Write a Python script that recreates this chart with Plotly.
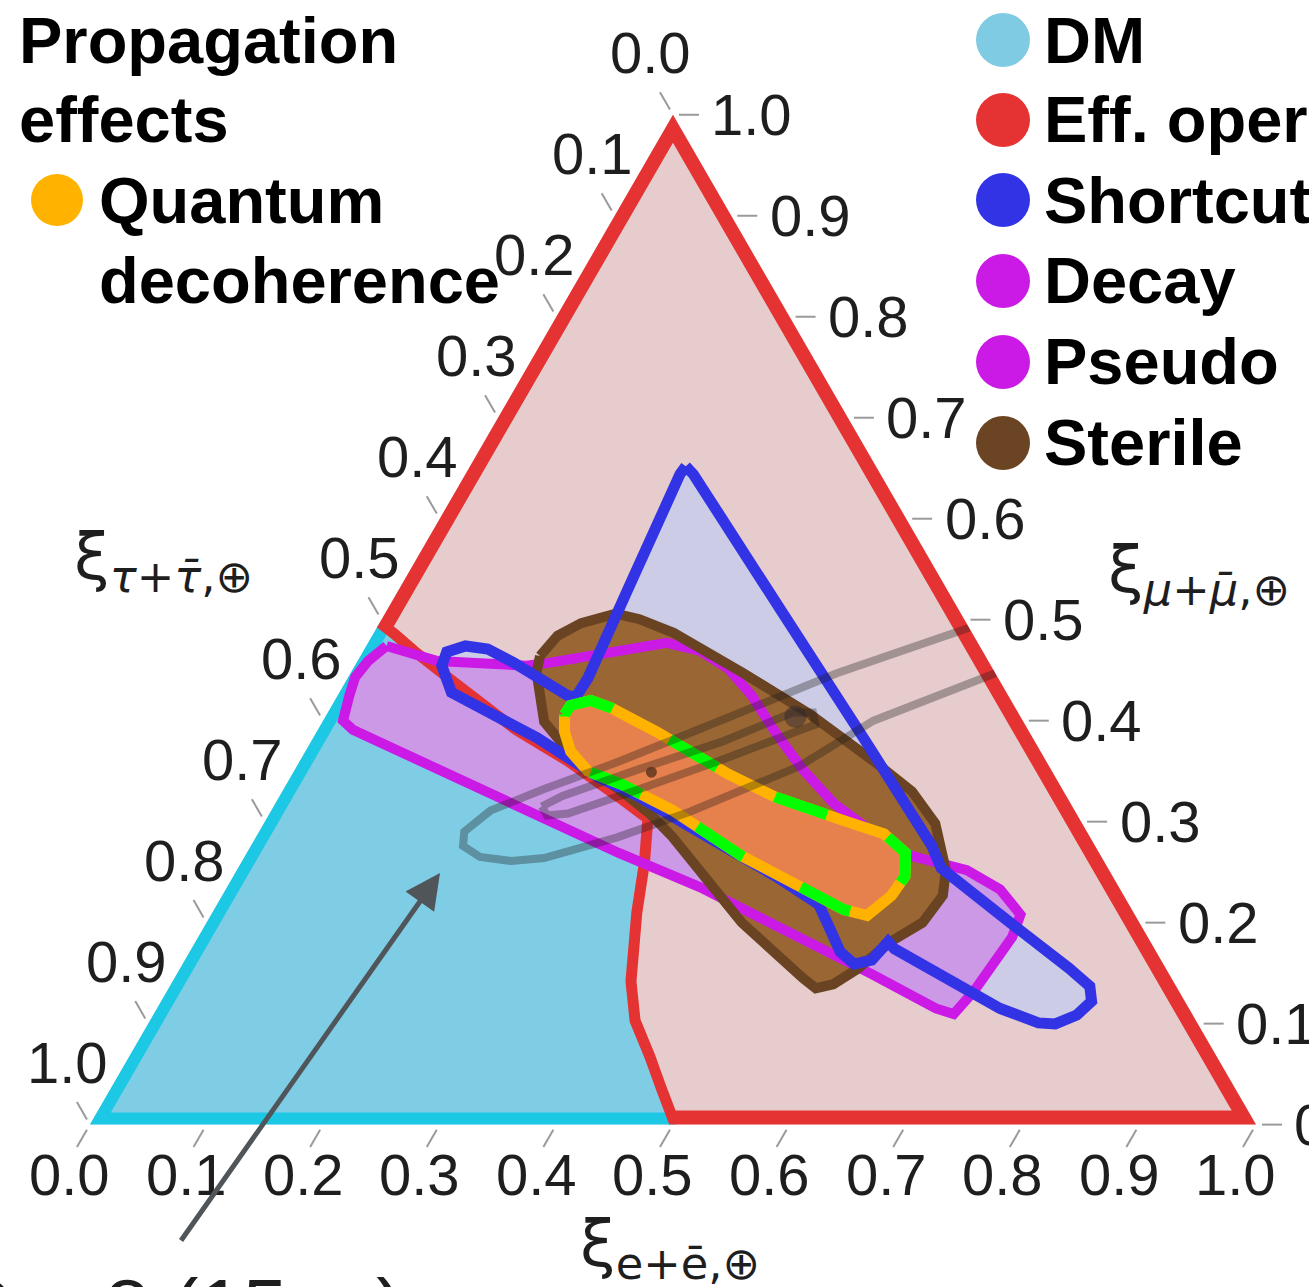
import math
import plotly.graph_objects as go

# ---------------------------------------------------------------------------
# Flavor composition at Earth.  Every region is listed as (xi_mu, xi_e) pairs;
# xi_tau follows from xi_e + xi_mu + xi_tau = 1.
# ---------------------------------------------------------------------------

# Boundary between the DM region and the effective-operator region
boundary_mu = [0.497, 0.486, 0.469, 0.445, 0.391, 0.360, 0.324, 0.303, 0.259,
               0.210, 0.142, 0.103, 0.068, 0.036, 0.007, 0.0]
boundary_e = [0.000, 0.018, 0.0435, 0.082, 0.170, 0.230, 0.292, 0.327, 0.346,
              0.364, 0.393, 0.416, 0.446, 0.472, 0.496, 0.502]

# Shortcut region
shortcut_mu = [0.652, 0.644, 0.513, 0.380, 0.276, 0.254, 0.202, 0.155, 0.137,
               0.122, 0.1085, 0.0997, 0.1007, 0.115, 0.174, 0.181, 0.163, 0.159,
               0.171, 0.1935, 0.218, 0.246, 0.291, 0.3245, 0.344, 0.383, 0.428,
               0.4545, 0.468, 0.474, 0.471, 0.4575, 0.425, 0.423, 0.442, 0.533,
               0.644]
shortcut_e = [0.185, 0.1955, 0.334, 0.475, 0.584, 0.603, 0.686, 0.762, 0.789,
              0.798, 0.792, 0.778, 0.763, 0.723, 0.603, 0.594, 0.589, 0.576,
              0.558, 0.538, 0.516, 0.465, 0.375, 0.309, 0.264, 0.192, 0.096,
              0.0745, 0.072, 0.085, 0.1056, 0.1345, 0.197, 0.205, 0.206, 0.196,
              0.184]

# Decay / pseudo-Dirac band
decay_mu = [0.474, 0.459, 0.4545, 0.4575, 0.477, 0.469, 0.4516, 0.425, 0.389,
            0.352, 0.318, 0.288, 0.266, 0.252, 0.233, 0.208, 0.186, 0.132,
            0.1095, 0.115, 0.149, 0.235, 0.269, 0.391, 0.400, 0.425, 0.443,
            0.459]
decay_e = [0.0174, 0.0685, 0.147, 0.166, 0.256, 0.289, 0.3216, 0.355, 0.393,
           0.435, 0.479, 0.529, 0.572, 0.626, 0.664, 0.694, 0.698, 0.692,
           0.686, 0.668, 0.596, 0.406, 0.319, 0.030, 0.017, 0.010, 0.006,
           0.009]

# Sterile-neutrino region
sterile_mu = [0.464, 0.484, 0.4966, 0.506, 0.5005, 0.487, 0.448, 0.406, 0.357,
              0.330, 0.298, 0.252, 0.227, 0.200, 0.181, 0.154, 0.139, 0.135,
              0.145, 0.200, 0.285, 0.308, 0.330, 0.367, 0.399, 0.448]
sterile_e = [0.154, 0.159, 0.173, 0.198, 0.221, 0.257, 0.335, 0.415, 0.497,
             0.540, 0.576, 0.608, 0.618, 0.614, 0.596, 0.581, 0.568, 0.555,
             0.539, 0.459, 0.357, 0.326, 0.291, 0.229, 0.190, 0.159]

# Quantum decoherence region
qd_mu = [0.406, 0.415, 0.420, 0.4125, 0.389, 0.347, 0.3245, 0.301, 0.288,
         0.269, 0.246, 0.227, 0.207, 0.213, 0.266, 0.311, 0.337, 0.350,
         0.3695, 0.389]
qd_e = [0.204, 0.2046, 0.2196, 0.241, 0.2915, 0.374, 0.4254, 0.496, 0.537,
        0.565, 0.576, 0.574, 0.563, 0.540, 0.426, 0.3446, 0.2875, 0.252,
        0.2275, 0.2125]

# IceCube contours (outer one runs out through the xi_tau = 0 edge)
ic_outer_mu = [0.492, 0.447, 0.417, 0.388, 0.359, 0.332, 0.311, 0.290, 0.276,
               0.265, 0.261, 0.264, 0.2845, 0.310, 0.355, 0.400, 0.447]
ic_outer_e = [0.508, 0.417, 0.3685, 0.321, 0.273, 0.223, 0.188, 0.176, 0.182,
              0.202, 0.231, 0.2575, 0.310, 0.360, 0.431, 0.472, 0.553]
ic_inner_mu = [0.315, 0.3255, 0.352, 0.379, 0.408, 0.408, 0.396, 0.388, 0.361,
               0.332, 0.308, 0.306]
ic_inner_e = [0.230, 0.2425, 0.295, 0.352, 0.399, 0.416, 0.424, 0.409, 0.361,
              0.305, 0.256, 0.239]

# Best-fit points
bf_ic_mu, bf_ic_e = [0.404], [0.403]
bf_std_mu, bf_std_e = [0.349], [0.307]

# Edge scales: every side carries the fraction of one flavor
tick_vals = [0.0, 0.1, 0.2, 0.3, 0.4, 0.5, 0.6, 0.7, 0.8, 0.9, 1.0]
tick_text = ["0.0", "0.1", "0.2", "0.3", "0.4", "0.5", "0.6", "0.7", "0.8", "0.9", "1.0"]

# Legend entries
legend_labels = ["DM", "Eff. operators", "Shortcuts", "Decay", "Pseudo", "Sterile"]
legend_colors = ["#7fcbe4", "#e53333", "#3333e6", "#cc1ae6", "#cc1ae6", "#6b4423"]

# Colors
DM_FILL, DM_EDGE = "#7fcce5", "#1cc8e3"
EFF_FILL, EFF_EDGE = "#e6cccc", "#e53333"
SC_FILL, SC_EDGE = "#cccce6", "#3333e6"
DEC_FILL, DEC_EDGE = "#cc99e6", "#cc1ae6"
ST_FILL, ST_EDGE = "#9a6633", "#6a4422"
QD_FILL, QD_EDGE, QD_DASH = "#e6804d", "#ffb300", "#00ff00"
IC_LINE = "rgba(25,25,25,0.33)"
TICK_COLOR = "#9a9a9a"

W, H = 1309, 1287
DOM_X, DOM_Y = [0.0687, 0.9595], [0.1222, 0.9148]


def abc(mu, e):
    mu, e = list(mu), list(e)
    return dict(a=mu, b=[1 - m - x for m, x in zip(mu, e)], c=e)


def tern(mu, e, **kw):
    return go.Scatterternary(**abc(mu, e), mode="lines", showlegend=False,
                             hoverinfo="skip", **kw)


def closed(v):
    return list(v) + [v[0]]


def fill(mu, e, color):
    return tern(mu, e, fill="toself", fillcolor=color, line=dict(width=0, color=color))


def edge(mu, e, color, width, dash="solid"):
    return tern(closed(mu), closed(e), line=dict(color=color, width=width, dash=dash))


fig = go.Figure()

# background regions: DM (left of the boundary) and effective operators (right)
fig.add_trace(fill([0.0] + boundary_mu, [0.0] + boundary_e, DM_FILL))
fig.add_trace(fill([1.0, 0.0] + boundary_mu[::-1], [0.0, 1.0] + boundary_e[::-1], EFF_FILL))
# outlines along the triangle sides (half of each stroke is clipped away)
fig.add_trace(tern([boundary_mu[0], 0.0, 0.0], [0.0, 0.0, boundary_e[-1]],
                   line=dict(color=DM_EDGE, width=24)))
fig.add_trace(tern([boundary_mu[0], 1.0, 0.0, 0.0], [0.0, 0.0, 1.0, boundary_e[-1]],
                   line=dict(color=EFF_EDGE, width=28)))

# model regions
fig.add_trace(fill(shortcut_mu, shortcut_e, SC_FILL))
fig.add_trace(fill(decay_mu, decay_e, DEC_FILL))
fig.add_trace(tern(boundary_mu, boundary_e, line=dict(color=EFF_EDGE, width=11)))
fig.add_trace(fill(sterile_mu, sterile_e, ST_FILL))
fig.add_trace(edge(decay_mu, decay_e, DEC_EDGE, 10))
fig.add_trace(edge(sterile_mu, sterile_e, ST_EDGE, 10))
fig.add_trace(edge(shortcut_mu, shortcut_e, SC_EDGE, 11))

# quantum decoherence
fig.add_trace(fill(qd_mu, qd_e, QD_FILL))
fig.add_trace(edge(qd_mu, qd_e, QD_EDGE, 11))
fig.add_trace(edge(qd_mu, qd_e, QD_DASH, 11, dash="55px,65px"))

# IceCube contours and best fits
fig.add_trace(tern(ic_outer_mu, ic_outer_e, line=dict(color=IC_LINE, width=8)))
fig.add_trace(edge(ic_inner_mu, ic_inner_e, IC_LINE, 8))
fig.add_trace(go.Scatterternary(**abc(bf_ic_mu, bf_ic_e), mode="markers",
                                marker=dict(size=22, color="rgba(40,40,50,0.45)"),
                                showlegend=False, hoverinfo="skip"))
fig.add_trace(go.Scatterternary(**abc(bf_std_mu, bf_std_e), mode="markers",
                                marker=dict(size=11, color="rgba(90,50,30,0.8)"),
                                showlegend=False, hoverinfo="skip"))

# ---------------------------------------------------------------------------
# Edge scales.  Plotly labels each side with the fraction of the opposite
# corner, so the scales are drawn here: the triangle size follows Plotly's
# own ternary sizing for the chosen domain, each tick extends the grid line of
# its flavor outwards and the number sits a little beyond it.
# ---------------------------------------------------------------------------
S3 = math.sqrt(3)
_wmax = (DOM_X[1] - DOM_X[0]) * W
_hmax = (DOM_Y[1] - DOM_Y[0]) * H
if _wmax > _hmax * 2 / S3:
    TRI_H = _hmax
    TRI_W = TRI_H * 2 / S3
else:
    TRI_W = _wmax
    TRI_H = TRI_W * S3 / 2
TRI_X0 = W * (DOM_X[0] + DOM_X[1]) / 2 - TRI_W / 2
TRI_Y0 = H * (1 - (DOM_Y[0] + DOM_Y[1]) / 2) - TRI_H / 2


def X(px):
    return px / W


def Y(py):
    return 1 - py / H


def corner_px(mu, e):
    return TRI_X0 + TRI_W * (e + mu / 2), TRI_Y0 + TRI_H * (1 - mu)


tick_font = dict(family="Liberation Sans, Arial, sans-serif", size=58, color="#1e1e1e")
annotations = []
shapes = []

# (edge point for value t, tick direction, label offset in px)
scales = [
    (lambda t: corner_px(1 - t, 0.0), (-0.5, -S3 / 2), (-22, -62)),   # xi_tau, left side
    (lambda t: corner_px(t, 1 - t), (1.0, 0.0), (79, 0)),             # xi_mu, right side
    (lambda t: corner_px(0.0, t), (-0.5, S3 / 2), (-20, 50)),         # xi_e, bottom side
]
for point, (ux, uy), (ox, oy) in scales:
    for t, lab in zip(tick_vals, tick_text):
        px, py = point(t)
        shapes.append(dict(type="line", xref="paper", yref="paper",
                           x0=X(px + 6 * ux), y0=Y(py + 6 * uy),
                           x1=X(px + 26 * ux), y1=Y(py + 26 * uy),
                           line=dict(color=TICK_COLOR, width=2)))
        annotations.append(dict(x=X(px + ox), y=Y(py + oy), xref="paper", yref="paper",
                                text=lab, showarrow=False, xanchor="center", yanchor="middle",
                                font=tick_font))

hidden_axis = dict(showticklabels=False, ticks="", showgrid=False, showline=False,
                   title=dict(text=""))

bold = dict(family="Liberation Sans, Arial, sans-serif", size=65, color="#000000")

# model legend (right)
row_y = [40, 120, 200, 281, 362, 443]
for lab, col, ry in zip(legend_labels, legend_colors, row_y):
    annotations.append(dict(x=X(1042), y=Y(ry), xref="paper", yref="paper", text="<b>%s</b>" % lab,
                            xanchor="left", yanchor="middle", showarrow=False, font=bold))
    shapes.append(dict(type="circle", xref="paper", yref="paper", x0=X(976), x1=X(1030),
                       y0=Y(ry + 27), y1=Y(ry - 27), fillcolor=col, line=dict(width=0)))

# propagation-effects legend (left)
for txt, lx, ry in [("Propagation", 17, 40), ("effects", 17, 120),
                    ("Quantum", 97, 200), ("decoherence", 97, 281)]:
    annotations.append(dict(x=X(lx), y=Y(ry), xref="paper", yref="paper", text="<b>%s</b>" % txt,
                            xanchor="left", yanchor="middle", showarrow=False, font=bold))
shapes.append(dict(type="circle", xref="paper", yref="paper", x0=X(31), x1=X(83),
                   y0=Y(226), y1=Y(174), fillcolor="#ffb300", line=dict(width=0)))

# axis titles
title_font = dict(family="DejaVu Sans, sans-serif", size=64, color="#1e1e1e")
annotations.append(dict(x=X(72), y=Y(562), xref="paper", yref="paper", xanchor="left", yanchor="middle",
                        text="ξ<sub><i>τ</i>+<i>τ̄</i>,⊕</sub>", showarrow=False, font=title_font))
annotations.append(dict(x=X(1106), y=Y(574), xref="paper", yref="paper", xanchor="left", yanchor="middle",
                        text="ξ<sub><i>μ</i>+<i>μ̄</i>,⊕</sub>", showarrow=False, font=title_font))
annotations.append(dict(x=X(578), y=Y(1248), xref="paper", yref="paper", xanchor="left", yanchor="middle",
                        text="ξ<sub>e+ē,⊕</sub>", showarrow=False, font=title_font))

# arrow to the IceCube contour and its caption
annotations.append(dict(x=X(440), y=Y(873), xref="paper", yref="paper", ax=-260, ay=369,
                        text="", showarrow=True, arrowhead=2, arrowsize=1.4, arrowwidth=5,
                        arrowcolor="#50555a"))
annotations.append(dict(x=X(-48), y=Y(1261), xref="paper", yref="paper", xanchor="left", yanchor="top",
                        text="Ω = 8 (15 yr)", showarrow=False,
                        font=dict(family="Liberation Sans, Arial, sans-serif", size=80, color="#1e1e1e")))

fig.update_layout(
    width=W, height=H, autosize=False,
    margin=dict(l=0, r=0, t=0, b=0),
    paper_bgcolor="white",
    showlegend=False,
    ternary=dict(
        sum=1,
        domain=dict(x=DOM_X, y=DOM_Y),
        bgcolor="white",
        aaxis=hidden_axis,
        baxis=hidden_axis,
        caxis=hidden_axis,
    ),
    annotations=annotations,
    shapes=shapes,
)

fig.write_html("out.html")
